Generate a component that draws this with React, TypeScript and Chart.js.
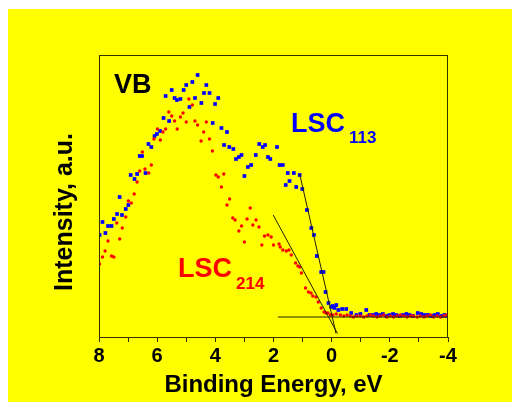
import React, { useEffect, useRef } from "react";
import { Chart, registerables } from "chart.js";

Chart.register(...registerables);

const FONT = "'Liberation Sans', Arial, Helvetica, sans-serif";

// LSC113 (blue squares): binding energy (eV) and intensity (a.u.)
const blueX = [7.98, 7.88, 7.78, 7.69, 7.57, 7.49, 7.38, 7.29, 7.21, 7.08, 6.99, 6.91, 6.78, 6.69, 6.6, 6.52, 6.4, 6.3, 6.2, 6.09, 6.01, 5.9, 5.78, 5.71, 5.59, 5.5, 5.4, 5.32, 5.2, 5.09, 5.0, 4.89, 4.79, 4.7, 4.61, 4.48, 4.39, 4.31, 4.2, 4.09, 4.01, 3.9, 3.79, 3.7, 3.6, 3.52, 3.38, 3.29, 3.19, 3.1, 3.0, 2.88, 2.77, 2.61, 2.49, 2.37, 2.29, 2.19, 2.11, 1.88, 1.79, 1.68, 1.58, 1.51, 1.45, 1.3, 1.22, 1.1, 1.01, 0.85, 0.7, 0.61, 0.51, 0.36, 0.28, 0.21, 0.11, 0.01, -0.04, -0.1, -0.16, -0.23, -0.36, -0.5, -0.67, -0.85, -0.99, -1.19, -1.3, -1.42, -1.53, -1.65, -1.76, -1.88, -1.99, -2.11, -2.22, -2.34, -2.45, -2.57, -2.68, -2.8, -2.96, -3.08, -3.19, -3.31, -3.42, -3.54, -3.65, -3.77, -3.88, -3.95];
const blueY = [102, 115, 104, 111, 111, 118, 123, 140, 122, 128, 132, 162, 158, 163, 181, 181, 164, 193, 190, 201, 203, 206, 219, 241, 216, 247, 239, 237, 238, 247, 252, 230, 255, 239, 262, 234, 244, 252, 244, 214, 233, 239, 209, 192, 205, 190, 188, 178, 180, 182, 161, 170, 172, 182, 193, 190, 192, 180, 178, 190, 172, 172, 152, 164, 156, 164, 150, 162, 148, 127, 109, 102, 81, 65, 65, 45, 34, 30, 31, 29, 32, 27, 28, 28, 24, 22, 23, 27, 22, 22, 23, 22, 23, 21, 22, 23, 22, 21, 22, 23, 22, 21, 24, 23, 22, 22, 21, 22, 23, 21, 22, 21];

// LSC214 (red circles)
const redX = [7.98, 7.88, 7.79, 7.69, 7.57, 7.49, 7.39, 7.29, 7.2, 7.08, 6.99, 6.89, 6.79, 6.69, 6.6, 6.51, 6.42, 6.29, 6.2, 6.11, 5.99, 5.89, 5.8, 5.71, 5.6, 5.5, 5.4, 5.31, 5.2, 5.11, 5.0, 4.91, 4.79, 4.7, 4.61, 4.49, 4.4, 4.31, 4.2, 4.1, 3.98, 3.9, 3.79, 3.71, 3.6, 3.51, 3.4, 3.32, 3.19, 3.1, 3.0, 2.91, 2.8, 2.71, 2.6, 2.5, 2.4, 2.31, 2.19, 2.08, 2.0, 1.81, 1.77, 1.68, 1.56, 1.47, 1.39, 1.24, 1.16, 1.1, 1.04, 0.9, 0.8, 0.71, 0.65, 0.54, 0.46, 0.36, 0.26, 0.19, 0.13, 0.04, -0.04, -0.16, -0.3, -0.42, -0.53, -0.64, -0.75, -0.87, -0.98, -1.1, -1.21, -1.33, -1.44, -1.56, -1.67, -1.79, -1.9, -2.02, -2.13, -2.25, -2.36, -2.48, -2.59, -2.71, -2.82, -2.94, -3.05, -3.17, -3.28, -3.4, -3.51, -3.63, -3.74, -3.86, -3.95];
const redY = [73, 80, 86, 96, 81, 80, 114, 98, 109, 120, 136, 134, 143, 155, 166, 185, 168, 164, 172, 198, 208, 197, 205, 208, 225, 221, 216, 208, 220, 224, 215, 238, 232, 216, 212, 196, 205, 215, 198, 186, 162, 160, 150, 163, 132, 138, 119, 117, 106, 111, 95, 118, 129, 112, 117, 110, 92, 101, 102, 100, 92, 93, 90, 87, 86, 87, 82, 74, 71, 70, 64, 49, 45, 44, 41, 40, 35, 29, 25, 24, 24, 22, 22, 23, 22, 21, 22, 21, 20, 21, 21, 20, 21, 22, 21, 20, 21, 22, 20, 21, 20, 21, 22, 21, 20, 21, 21, 20, 21, 20, 21, 22, 20, 21, 20, 21, 22];

// Linear fits (leading-edge tangents and background)
const fit113X = [1.1, -0.15];
const fit113Y = [163, 3.5];
const fit214X = [2.01, -0.2];
const fit214Y = [122, 3.5];
const baseX = [1.85, -3.95];
const baseY = [20, 20];

const xMin = -4;
const xMax = 8;
const yMin = 0;
const yMax = 282;
const xTickLabels = ["8", "6", "4", "2", "0", "-2", "-4"];

const pts = (xs: number[], ys: number[]) => xs.map((x, i) => ({ x, y: ys[i] }));

const bgPlugin = {
  id: "bg",
  beforeDraw(chart: any) {
    const { ctx, width, height } = chart;
    ctx.save();
    ctx.fillStyle = "#ffff00";
    ctx.fillRect(0, 0, width, height);
    ctx.restore();
  },
};

const framePlugin = {
  id: "frame",
  afterDraw(chart: any) {
    const { ctx, chartArea } = chart;
    const { left, top, right, bottom } = chartArea;
    ctx.save();
    ctx.strokeStyle = "#333300";
    ctx.lineWidth = 1;
    ctx.strokeRect(left + 0.5, top + 0.5, right - left - 1, bottom - top);
    ctx.restore();

    ctx.save();
    ctx.fillStyle = "#000";
    ctx.textAlign = "left";
    ctx.textBaseline = "alphabetic";
    ctx.font = `bold 27px ${FONT}`;
    ctx.fillText("VB", 106, 84);

    ctx.fillStyle = "#0000ff";
    ctx.font = `bold 27px ${FONT}`;
    ctx.fillText("LSC", 283, 123);
    ctx.font = `bold 17px ${FONT}`;
    ctx.fillText("113", 341, 134);

    ctx.fillStyle = "#ff0000";
    ctx.font = `bold 27px ${FONT}`;
    ctx.fillText("LSC", 170, 268);
    ctx.font = `bold 17px ${FONT}`;
    ctx.fillText("214", 228, 280);

    ctx.fillStyle = "#000";
    ctx.font = `bold 25px ${FONT}`;
    ctx.translate(64, 203);
    ctx.rotate(-Math.PI / 2);
    ctx.textAlign = "center";
    ctx.fillText("Intensity, a.u.", 0, 0);
    ctx.restore();
  },
};

export default function App() {
  const ref = useRef<HTMLCanvasElement | null>(null);

  useEffect(() => {
    if (!ref.current) return;
    const lineDs = (xs: number[], ys: number[]) => ({
      type: "line" as const,
      data: pts(xs, ys),
      showLine: true,
      borderColor: "#222200",
      borderWidth: 1,
      pointRadius: 0,
      fill: false,
      order: 0,
    });
    const chart = new Chart(ref.current, {
      type: "scatter",
      data: {
        datasets: [
          lineDs(fit113X, fit113Y),
          lineDs(fit214X, fit214Y),
          lineDs(baseX, baseY),
          {
            label: "LSC214",
            data: pts(redX, redY),
            pointStyle: "circle",
            pointRadius: 1.7,
            pointBorderWidth: 0,
            backgroundColor: "#ff0000",
            borderColor: "#ff0000",
            order: 1,
          },
          {
            label: "LSC113",
            data: pts(blueX, blueY),
            pointStyle: "rect",
            pointRadius: 2.6,
            pointBorderWidth: 0,
            backgroundColor: "#0000ff",
            borderColor: "#0000ff",
            order: 2,
          },
        ] as any,
      },
      options: {
        animation: false,
        responsive: false,
        devicePixelRatio: 1,
        layout: { padding: { left: 0, top: 46, right: 64, bottom: 0 } },
        plugins: { legend: { display: false }, tooltip: { enabled: false } },
        scales: {
          x: {
            type: "linear",
            reverse: true,
            min: xMin,
            max: xMax,
            afterFit: (s: any) => {
              s.height = 65;
            },
            ticks: {
              stepSize: 1,
              autoSkip: false,
              maxRotation: 0,
              padding: 2,
              color: "#000",
              font: { family: FONT, size: 20, weight: "bold" },
              callback: (v: any) => {
                const n = Number(v);
                if (n % 2 !== 0) return "";
                const idx = (xMax - n) / 2;
                return xTickLabels[idx] ?? String(n);
              },
            },
            grid: {
              display: true,
              drawOnChartArea: false,
              drawTicks: true,
              tickLength: 5,
              color: "#333300",
              lineWidth: 1,
            },
            border: { display: false },
            title: {
              display: true,
              text: "Binding Energy, eV",
              color: "#000",
              font: { family: FONT, size: 24, weight: "bold" },
              padding: { top: 0, bottom: 2 },
            },
          },
          y: {
            type: "linear",
            min: yMin,
            max: yMax,
            afterFit: (s: any) => {
              s.width = 91;
            },
            ticks: { display: false },
            grid: { display: false },
            border: { display: false },
          },
        },
      } as any,
      plugins: [bgPlugin, framePlugin],
    });
    return () => chart.destroy();
  }, []);

  return (
    <div
      style={{
        position: "fixed",
        left: 8,
        top: 9,
        width: 504,
        height: 393,
        background: "#ffff00",
        overflow: "hidden",
      }}
    >
      <canvas ref={ref} width={504} height={393} style={{ display: "block" }} />
    </div>
  );
}
